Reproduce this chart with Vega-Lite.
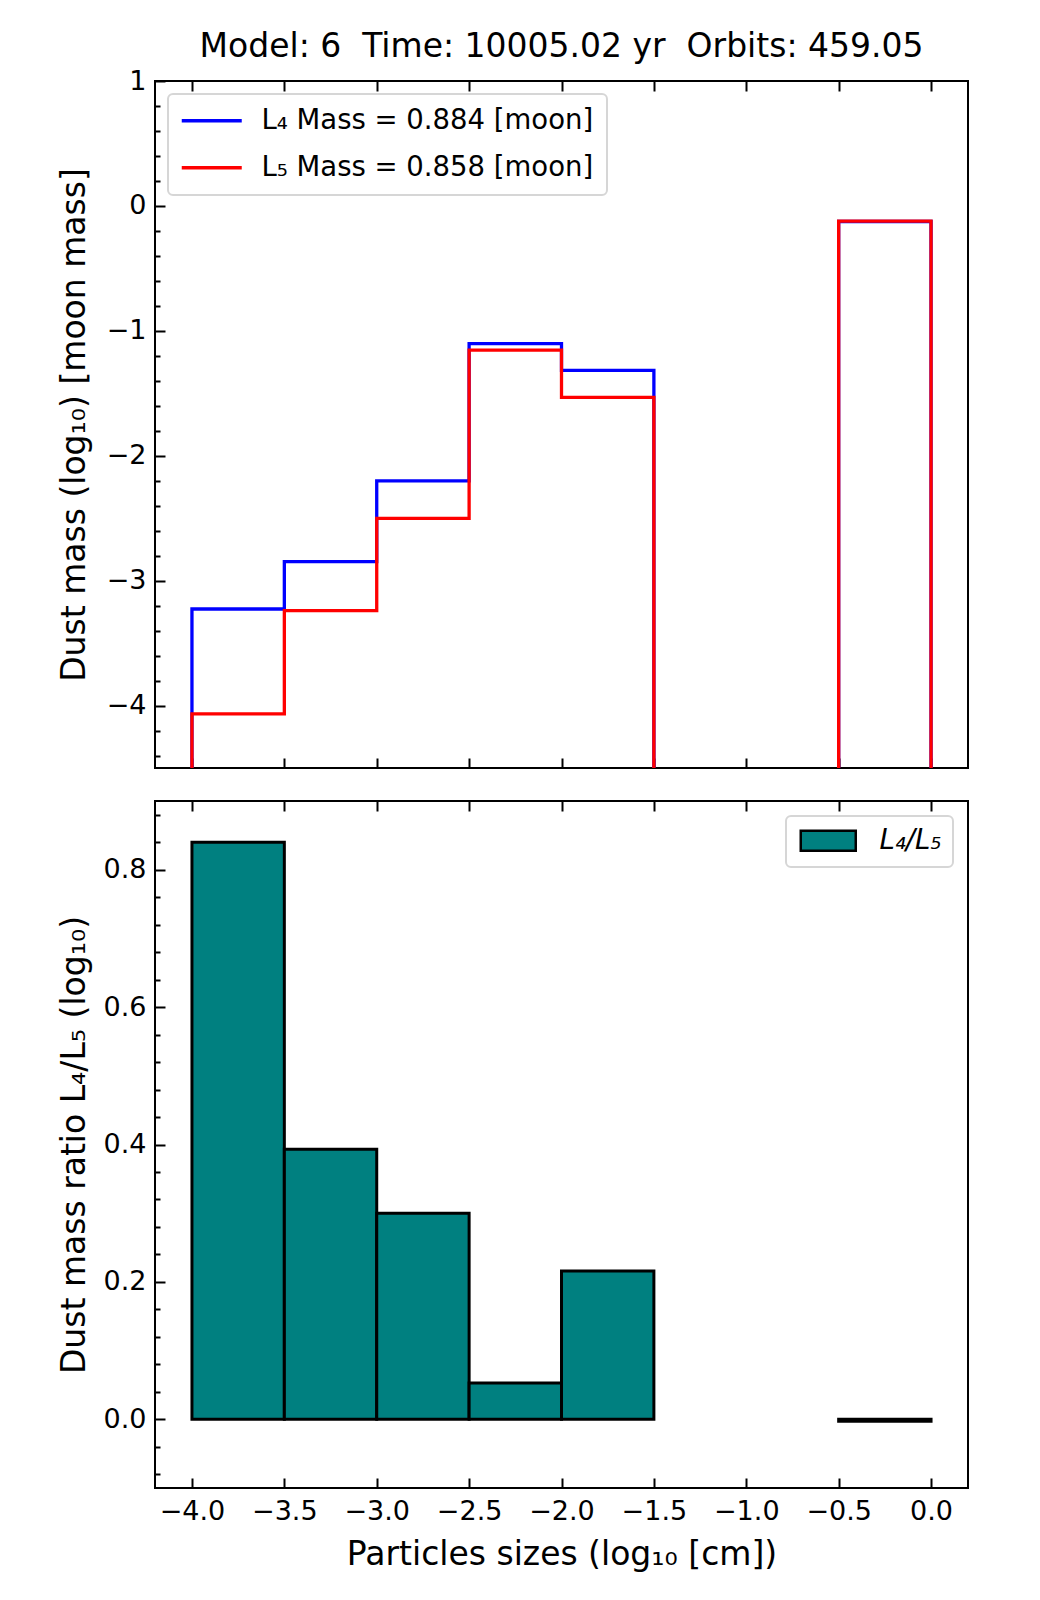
{
  "$schema": "https://vega.github.io/schema/vega-lite/v6.json",
  "padding": {"left": 57, "top": 30, "right": 5, "bottom": 5},
  "spacing": 33,
  "bounds": "flush",
  "config": {
    "font": "DejaVu Sans",
    "view": {"stroke": "black", "strokeWidth": 2},
    "axis": {
      "domain": false,
      "grid": false,
      "tickColor": "black",
      "tickWidth": 2,
      "labelFont": "DejaVu Sans",
      "labelFontSize": 27,
      "labelColor": "black",
      "labelOverlap": false,
      "labelBound": false,
      "titleFont": "DejaVu Sans",
      "titleFontSize": 33,
      "titleFontWeight": "normal",
      "titleColor": "black"
    },
    "legend": {
      "labelFont": "DejaVu Sans",
      "labelFontSize": 27.5,
      "labelColor": "black",
      "labelLimit": 0,
      "fillColor": "white",
      "strokeColor": "#d6d6d6",
      "strokeWidth": 2,
      "cornerRadius": 5
    }
  },
  "resolve": {
    "scale": {"color": "independent", "fill": "independent"},
    "legend": {"color": "independent", "fill": "independent"}
  },
  "vconcat": [
    {
      "width": 813,
      "height": 687,
      "title": {
        "text": "Model: 6 \u00a0Time: 10005.02 yr \u00a0Orbits: 459.05",
        "fontSize": 33,
        "fontWeight": "normal",
        "font": "DejaVu Sans",
        "color": "black",
        "anchor": "middle",
        "baseline": "alphabetic",
        "offset": -23
      },
      "data": {
        "values": [
          {"i": 0, "x": -4.0, "y": -9, "s": "L₄ Mass = 0.884 [moon]"},
          {"i": 1, "x": -4.0, "y": -3.227, "s": "L₄ Mass = 0.884 [moon]"},
          {"i": 2, "x": -3.5, "y": -2.847, "s": "L₄ Mass = 0.884 [moon]"},
          {"i": 3, "x": -3.0, "y": -2.201, "s": "L₄ Mass = 0.884 [moon]"},
          {"i": 4, "x": -2.5, "y": -1.102, "s": "L₄ Mass = 0.884 [moon]"},
          {"i": 5, "x": -2.0, "y": -1.317, "s": "L₄ Mass = 0.884 [moon]"},
          {"i": 6, "x": -1.5, "y": -9, "s": "L₄ Mass = 0.884 [moon]"},
          {"i": 7, "x": -0.5, "y": -0.125, "s": "L₄ Mass = 0.884 [moon]"},
          {"i": 8, "x": 0.0, "y": -9, "s": "L₄ Mass = 0.884 [moon]"},
          {"i": 0, "x": -4.0, "y": -9, "s": "L₅ Mass = 0.858 [moon]"},
          {"i": 1, "x": -4.0, "y": -4.067, "s": "L₅ Mass = 0.858 [moon]"},
          {"i": 2, "x": -3.5, "y": -3.24, "s": "L₅ Mass = 0.858 [moon]"},
          {"i": 3, "x": -3.0, "y": -2.501, "s": "L₅ Mass = 0.858 [moon]"},
          {"i": 4, "x": -2.5, "y": -1.155, "s": "L₅ Mass = 0.858 [moon]"},
          {"i": 5, "x": -2.0, "y": -1.533, "s": "L₅ Mass = 0.858 [moon]"},
          {"i": 6, "x": -1.5, "y": -9, "s": "L₅ Mass = 0.858 [moon]"},
          {"i": 7, "x": -0.5, "y": -0.122, "s": "L₅ Mass = 0.858 [moon]"},
          {"i": 8, "x": 0.0, "y": -9, "s": "L₅ Mass = 0.858 [moon]"}
        ]
      },
      "layer": [
        {
          "mark": {"type": "line", "interpolate": "step-after", "strokeWidth": 3.3, "strokeJoin": "miter", "clip": true},
          "encoding": {
            "x": {
              "field": "x",
              "type": "quantitative",
              "scale": {"domain": [-4.2, 0.2], "nice": false, "zero": false},
              "axis": {"orient": "bottom", "values": [-4, -3.5, -3, -2.5, -2, -1.5, -1, -0.5, 0], "labels": false, "tickSize": -10, "title": null}
            },
            "y": {
              "field": "y",
              "type": "quantitative",
              "scale": {"domain": [-4.5, 1], "nice": false, "zero": false},
              "axis": {
                "values": [-4.4, -4.2, -4, -3.8, -3.6, -3.4, -3.2, -3, -2.8, -2.6, -2.4, -2.2, -2, -1.8, -1.6, -1.4, -1.2, -1, -0.8, -0.6, -0.4, -0.2, 0, 0.2, 0.4, 0.6, 0.8, 1],
                "format": ".0f",
                "labelExpr": "abs(datum.value - round(datum.value)) < 0.001 ? datum.label : ''",
                "tickSize": {"condition": {"test": "abs(datum.value - round(datum.value)) < 0.001", "value": -10}, "value": -5},
                "labelPadding": 19,
                "title": "Dust mass (log₁₀) [moon mass]",
                "titlePadding": 15
              }
            },
            "color": {
              "field": "s",
              "type": "nominal",
              "scale": {"domain": ["L₄ Mass = 0.884 [moon]", "L₅ Mass = 0.858 [moon]"], "range": ["blue", "red"]},
              "legend": {
                "orient": "top-left",
                "offset": 13,
                "title": null,
                "padding": 13,
                "rowPadding": 18,
                "symbolType": "M-1.3,0H4.7",
                "symbolSize": 400,
                "symbolStrokeWidth": 3.3,
                "labelOffset": 53
              }
            },
            "order": {"field": "i", "type": "quantitative"}
          }
        },
        {
          "mark": {"type": "rule", "opacity": 0},
          "encoding": {
            "x": {
              "field": "x",
              "type": "quantitative",
              "axis": {"orient": "top", "values": [-4, -3.5, -3, -2.5, -2, -1.5, -1, -0.5, 0], "labels": false, "tickSize": -10, "title": null}
            }
          }
        }
      ],
      "resolve": {"axis": {"x": "independent"}}
    },
    {
      "width": 813,
      "height": 687,
      "data": {
        "values": [
          {"x": -4.0, "x2": -3.5, "r": 0.84, "k": "L₄/L₅"},
          {"x": -3.5, "x2": -3.0, "r": 0.393, "k": "L₄/L₅"},
          {"x": -3.0, "x2": -2.5, "r": 0.3, "k": "L₄/L₅"},
          {"x": -2.5, "x2": -2.0, "r": 0.053, "k": "L₄/L₅"},
          {"x": -2.0, "x2": -1.5, "r": 0.216, "k": "L₄/L₅"},
          {"x": -0.5, "x2": 0.0, "r": -0.003, "k": "L₄/L₅"}
        ]
      },
      "layer": [
        {
          "mark": {"type": "rect", "stroke": "black", "strokeWidth": 3, "strokeJoin": "miter"},
          "encoding": {
            "x": {
              "field": "x",
              "type": "quantitative",
              "scale": {"domain": [-4.2, 0.2], "nice": false, "zero": false},
              "axis": {
                "orient": "bottom",
                "values": [-4, -3.5, -3, -2.5, -2, -1.5, -1, -0.5, 0],
                "format": ".1f",
                "tickSize": -10,
                "labelPadding": 20,
                "title": "Particles sizes (log₁₀ [cm])",
                "titlePadding": 14
              }
            },
            "x2": {"field": "x2"},
            "y": {
              "field": "r",
              "type": "quantitative",
              "scale": {"domain": [-0.1, 0.9], "nice": false, "zero": false},
              "axis": {
                "values": [-0.08, -0.04, 0, 0.04, 0.08, 0.12, 0.16, 0.2, 0.24, 0.28, 0.32, 0.36, 0.4, 0.44, 0.48, 0.52, 0.56, 0.6, 0.64, 0.68, 0.72, 0.76, 0.8, 0.84, 0.88],
                "format": ".1f",
                "labelExpr": "abs(datum.value * 5 - round(datum.value * 5)) < 0.001 ? datum.label : ''",
                "tickSize": {"condition": {"test": "abs(datum.value * 5 - round(datum.value * 5)) < 0.001", "value": -10}, "value": -5},
                "labelPadding": 19,
                "title": "Dust mass ratio L₄/L₅ (log₁₀)",
                "titlePadding": 12
              }
            },
            "y2": {"datum": 0},
            "fill": {
              "field": "k",
              "type": "nominal",
              "scale": {"range": ["#008080"]},
              "legend": {
                "orient": "top-right",
                "offset": 15,
                "title": null,
                "padding": 11,
                "symbolType": "M-1,-1H4.5V1H-1Z",
                "symbolSize": 400,
                "symbolStrokeColor": "black",
                "symbolStrokeWidth": 2.5,
                "symbolOpacity": 1,
                "labelFontStyle": "italic",
                "labelOffset": 55
              }
            }
          }
        },
        {
          "mark": {"type": "rule", "opacity": 0},
          "encoding": {
            "x": {
              "field": "x",
              "type": "quantitative",
              "axis": {"orient": "top", "values": [-4, -3.5, -3, -2.5, -2, -1.5, -1, -0.5, 0], "labels": false, "tickSize": -10, "title": null}
            }
          }
        }
      ],
      "resolve": {"axis": {"x": "independent"}}
    }
  ]
}
